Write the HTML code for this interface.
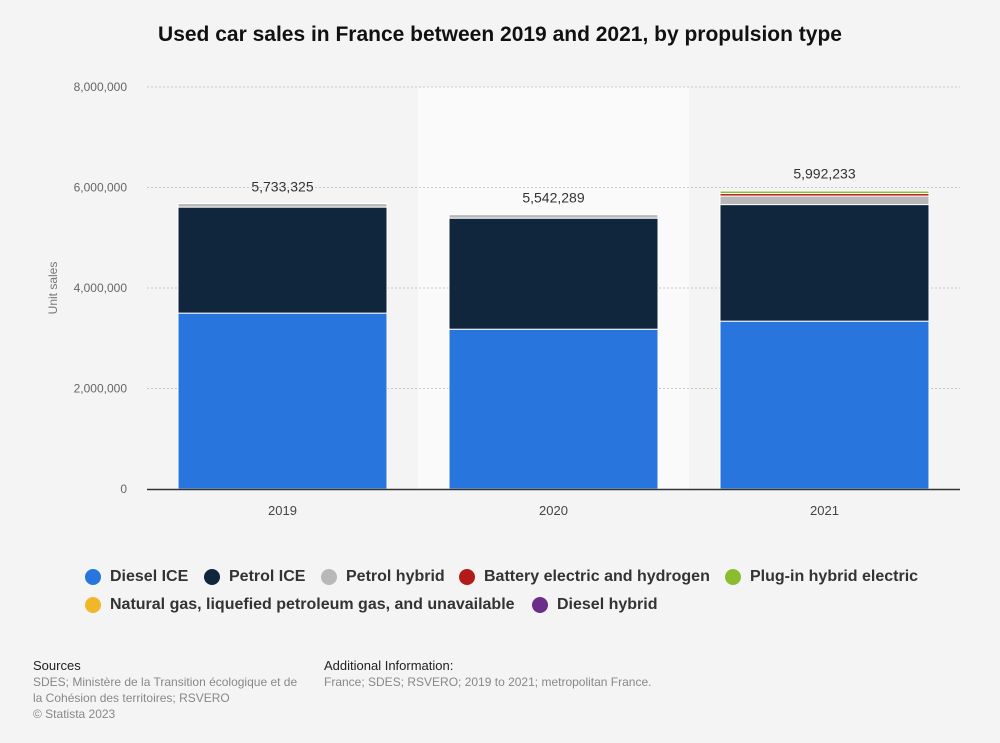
<!DOCTYPE html>
<html><head><meta charset="utf-8"><style>
body{margin:0;background:#f4f4f4;font-family:"Liberation Sans",Arial,sans-serif;}
.wrap{position:relative;width:1000px;height:743px;overflow:hidden}
.title{position:absolute;top:23px;left:0;width:1000px;text-align:center;font-weight:bold;font-size:21px;color:#111}
.leg{position:absolute;font-size:16px;font-weight:bold;color:#333;display:flex;align-items:center;white-space:nowrap}
.leg i{display:inline-block;width:16px;height:16px;border-radius:50%;margin-right:9px}
.foot{position:absolute;font-size:12px;color:#888;line-height:16px}
.foot b{font-weight:normal;color:#222;font-size:13px}
</style></head><body><div class="wrap">
<div class="title">Used car sales in France between 2019 and 2021, by propulsion type</div>
<svg id="c" width="1000" height="560" style="position:absolute;left:0;top:0"></svg>
<div class="leg" style="left:85px;top:568px"><i style="background:#2876dd"></i>Diesel ICE</div>
<div class="leg" style="left:204px;top:568px"><i style="background:#10263d"></i>Petrol ICE</div>
<div class="leg" style="left:321px;top:568px"><i style="background:#b8b8b8"></i>Petrol hybrid</div>
<div class="leg" style="left:459px;top:568px"><i style="background:#b31a1a"></i>Battery electric and hydrogen</div>
<div class="leg" style="left:725px;top:568px"><i style="background:#8bbc30"></i>Plug-in hybrid electric</div>
<div class="leg" style="left:85px;top:596px"><i style="background:#f0b72a"></i>Natural gas, liquefied petroleum gas, and unavailable</div>
<div class="leg" style="left:532px;top:596px"><i style="background:#6b2f8a"></i>Diesel hybrid</div>
<div class="foot" style="left:33px;top:658px"><b>Sources</b><br>SDES; Ministère de la Transition écologique et de<br>la Cohésion des territoires; RSVERO<br>© Statista 2023</div>
<div class="foot" style="left:324px;top:658px"><b>Additional Information:</b><br>France; SDES; RSVERO; 2019 to 2021; metropolitan France.</div>
</div>
<script>
const categories=["2019","2020","2021"];
const dieselICE=[3500000,3180000,3340000];
const petrolICE=[2110000,2210000,2320000];
const petrolHybrid=[70000,70000,170000];
const batteryElectric=[2000,2000,50000];
const plugInHybrid=[1000,1000,50000];
const naturalGas=[1000,1000,5000];
const dieselHybrid=[1000,1000,5000];
const totals=["5,733,325","5,542,289","5,992,233"];
const yTicks=[0,2000000,4000000,6000000,8000000];
const series=[[dieselICE,"#2876dd"],[petrolICE,"#10263d"],[petrolHybrid,"#b8b8b8"],[batteryElectric,"#b31a1a"],[plugInHybrid,"#8bbc30"],[naturalGas,"#f0b72a"],[dieselHybrid,"#6b2f8a"]];
const svg=document.getElementById('c'),NS="http://www.w3.org/2000/svg";
const x0=147,x1=960,y0=489,y1=87,band=(x1-x0)/categories.length,bw=209;
const y=v=>y0-(v/8000000)*(y0-y1);
function el(t,a,p){const e=document.createElementNS(NS,t);for(const k in a)e.setAttribute(k,a[k]);(p||svg).appendChild(e);return e;}
const hl=el('rect',{x:x0+band,y:y1,width:band,height:y0-y1,fill:'#fafafa'});


yTicks.forEach(t=>{
 if(t>0){const g=el('line',{x1:x0,x2:x1,y1:y(t),y2:y(t),stroke:'#c8c8c8','stroke-dasharray':'2,2'});
 
 }
 const tx=el('text',{x:127,y:y(t)+4,'text-anchor':'end','font-size':12,fill:'#666'});tx.textContent=t.toLocaleString('en-US');
 
 
});
const yt=el('text',{transform:'translate(57,288) rotate(-90)','text-anchor':'middle','font-size':12,fill:'#777'});yt.textContent='Unit sales';


categories.forEach((c,i)=>{
 const cx=x0+band*(i+0.5);let cum=0;
 series.forEach(([arr,col])=>{
  const v=arr[i];const h=y(cum)-y(cum+v);
  if(h>=0.8){const r=el('rect',{x:cx-bw/2,y:y(cum+v),width:bw,height:h,fill:col,stroke:'#ffffff','stroke-width':1});
  
  }
  cum+=v;
 });
 const lb=el('text',{x:cx,y:y(cum)-12,'text-anchor':'middle','font-size':14,fill:'#333'});lb.textContent=totals[i];
 
 
 const xl=el('text',{x:cx,y:515,'text-anchor':'middle','font-size':13,fill:'#444'});xl.textContent=c;
 
 
});
const ax=el('line',{x1:x0,x2:x1,y1:y0+0.5,y2:y0+0.5,stroke:'#333','stroke-width':1.5});


</script></body></html>
